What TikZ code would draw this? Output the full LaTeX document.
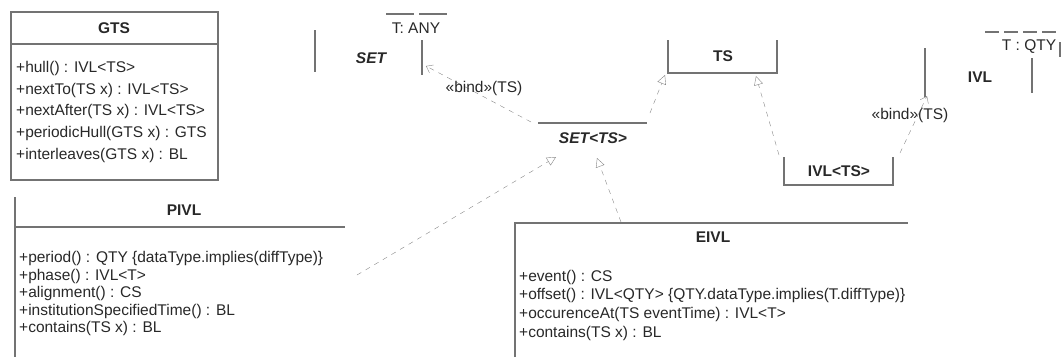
\documentclass[tikz,border=0pt]{standalone}
\usepackage{fontspec}
\setmainfont{Liberation Sans}
\usepackage{tikz}
\usetikzlibrary{arrows.meta}
\definecolor{boxgray}{RGB}{115,115,115}
\definecolor{dashgray}{RGB}{135,135,135}
\definecolor{textgray}{RGB}{40,40,40}

\begin{document}
\begin{tikzpicture}[x=1pt, y=-1pt,
    every node/.style={font=\fontsize{15.5}{17}\selectfont, text=textgray, inner sep=0pt},
    opline/.style={anchor=west},
    classname/.style={font=\fontsize{15.5}{17}\selectfont\bfseries},
    abstractname/.style={font=\fontsize{15.5}{17}\selectfont\bfseries\itshape},
    border/.style={boxgray, line width=1.1pt},
    realize/.style={dashgray, dash pattern=on 5pt off 5pt, -{Triangle[open, length=9pt, width=9pt]}},
    bindline/.style={dashgray, dash pattern=on 5pt off 5pt, -{Straight Barb[length=6pt, width=9pt]}}]

    \useasboundingbox (0,0) rectangle (1061,357);

    %% GTS class
    \draw[border] (11,12) rectangle (218,180);
    \draw[border] (11,44) -- (218,44);
    \node[classname] (gts) at (114,28) {GTS};
    \node[opline] (gts-op1) at (16,68)  {+hull() : IVL<TS>};
    \node[opline] (gts-op2) at (16,90)  {+nextTo(TS x) : IVL<TS>};
    \node[opline] (gts-op3) at (16,111) {+nextAfter(TS x) : IVL<TS>};
    \node[opline] (gts-op4) at (16,133) {+periodicHull(GTS x) : GTS};
    \node[opline] (gts-op5) at (16,155) {+interleaves(GTS x) : BL};

    %% PIVL class (right and bottom edges lost)
    \draw[border] (15,197) -- (15,357);
    \draw[border] (15,227) -- (345,227);
    \node[classname] (pivl) at (184,210) {PIVL};
    \node[opline] (pivl-op1) at (19,258) {+period() : QTY \{dataType.implies(diffType)\}};
    \node[opline] (pivl-op2) at (19,276) {+phase() : IVL<T>};
    \node[opline] (pivl-op3) at (19,293) {+alignment() : CS};
    \node[opline] (pivl-op4) at (19,311) {+institutionSpecifiedTime() : BL};
    \node[opline] (pivl-op5) at (19,328) {+contains(TS x) : BL};

    %% EIVL class
    \draw[border] (515,357) -- (515,223) -- (908,223);
    \node[classname] (eivl) at (713,237) {EIVL};
    \node[opline] (eivl-op1) at (519,277) {+event() : CS};
    \node[opline] (eivl-op2) at (519,295) {+offset() : IVL<QTY> \{QTY.dataType.implies(T.diffType)\}};
    \node[opline] (eivl-op3) at (519,314) {+occurenceAt(TS eventTime) : IVL<T>};
    \node[opline] (eivl-op4) at (519,333) {+contains(TS x) : BL};

    %% SET template with T: ANY
    \draw[border] (315,30) -- (315,72);
    \draw[border] (422,40) -- (422,75);
    \draw[border, dash pattern=on 28pt off 5pt] (386,14) -- (450,14);
    \node[abstractname] (set) at (371,58) {SET};
    \node (tany) at (416,28) {T: ANY};

    %% SET<TS>
    \draw[border] (538,123) -- (647,123);
    \node[abstractname] (setts) at (593,138) {SET<TS>};

    %% TS
    \draw[border] (668,40) -- (668,73) -- (777,73) -- (777,40);
    \node[classname] (ts) at (723,56) {TS};

    %% IVL<TS>
    \draw[border] (784,157) -- (784,185) -- (893,185) -- (893,157);
    \node[classname] (ivlts) at (839,171) {IVL<TS>};

    %% IVL template with T : QTY
    \draw[border] (925,48) -- (925,97);
    \draw[border] (1032,58) -- (1032,93);
    \draw[border] (1060,42) -- (1060,57);
    \draw[border, dash pattern=on 14pt off 5pt] (985,32) -- (1061,32);
    \node[classname] (ivl) at (980,77) {IVL};
    \node (tqty) at (1029,47) {T : QTY};

    %% connector ends
    \coordinate (setts-bind) at (531,122);
    \coordinate (set-in)     at (426,66);
    \coordinate (setts-up)   at (650,113);
    \coordinate (ts-in1)     at (665,75);
    \coordinate (ivlts-up)   at (779,155);
    \coordinate (ts-in2)     at (756,76);
    \coordinate (ivlts-bind) at (900,153);
    \coordinate (ivl-in)     at (927,96);
    \coordinate (pivl-out)   at (357,275);
    \coordinate (setts-in1)  at (556,157);
    \coordinate (eivl-out)   at (621,222);
    \coordinate (setts-in2)  at (597,158);

    %% bindings
    \draw[bindline] (setts-bind) -- (set-in);
    \node (bind1) at (484,88) {«bind»(TS)};
    \draw[bindline] (ivlts-bind) -- (ivl-in);
    \node (bind2) at (910,115) {«bind»(TS)};

    %% realizations
    \draw[realize] (setts-up) -- (ts-in1);
    \draw[realize] (ivlts-up) -- (ts-in2);
    \draw[realize] (pivl-out) -- (setts-in1);
    \draw[realize] (eivl-out) -- (setts-in2);

\end{tikzpicture}
\end{document}
